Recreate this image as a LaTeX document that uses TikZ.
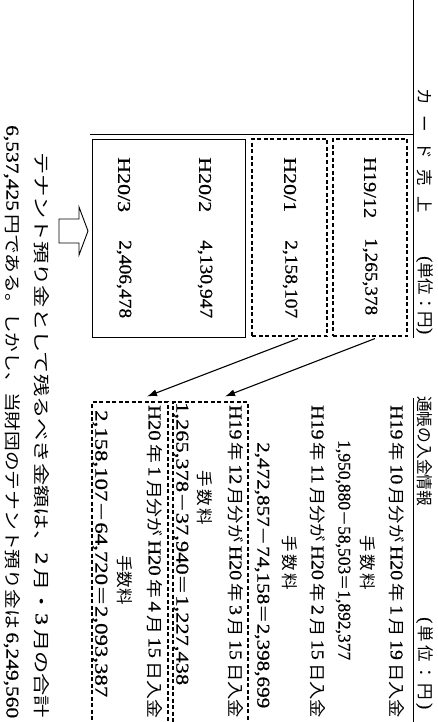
\documentclass[tikz,border=0pt]{standalone}
\usepackage{fontspec}
\usepackage{graphicx}
\setmainfont{Liberation Serif}[FakeBold=0.6]
\newfontfamily\jp[Scale=0.92]{Noto Sans CJK JP}
\newcommand\J[1]{{\jp #1}}
\usetikzlibrary{arrows.meta}
\tikzset{
  vt/.style={rotate=-90, anchor=west, inner sep=0pt, font=\fontsize{18}{20}\selectfont},
  dbox/.style={draw, dash pattern=on 4pt off 2.5pt, line width=1.1pt, inner sep=0pt},
  sbox/.style={draw, line width=1pt, inner sep=0pt},
  rule/.style={line width=1pt},
  arr/.style={line width=1.1pt, -{Latex[length=10pt,width=7pt]}},
  hollow/.style={draw, line width=0.9pt, fill=white}
}
% name, x, y-start, length, text (scaled to length)
\newcommand\vtext[5]{\node[vt] (#1) at (#2,#3) {\resizebox{#4pt}{\height}{#5}};}
% name, x, y-start, length, text spread to length
\newcommand\vspread[5]{\node[vt] (#1) at (#2,#3) {\makebox[#4pt][s]{#5}};}
\begin{document}
\begin{tikzpicture}[x=1pt,y=-1pt]
\useasboundingbox (0,0) rectangle (438,722);
\clip (0,0) rectangle (438,722);
% rules
\coordinate (r1a) at (413,0);
\coordinate (r1b) at (413,338);
\coordinate (r2a) at (413,398);
\coordinate (r2b) at (413,722);
\coordinate (h1) at (90,135);
\coordinate (h2) at (413,135);
\draw[rule] (r1a) -- (r1b);
\draw[rule] (r2a) -- (r2b);
\draw[rule] (h1) -- (h2);
% upper boxes
\node[dbox, minimum width=74pt, minimum height=197pt] (d1) at (370,237.5) {};
\node[dbox, minimum width=75pt, minimum height=197pt] (d2) at (289.5,237.5) {};
\node[sbox, minimum width=153pt, minimum height=197pt] (s1) at (168.5,238.5) {};
% lower boxes (open at the bottom edge of the page)
\node[dbox, minimum width=75pt, minimum height=340pt] (bA) at (210.5,572) {};
\node[dbox, minimum width=76pt, minimum height=340pt] (bB) at (130,572) {};
% arrows
\draw[arr] ([xshift=5pt,yshift=-2pt]d1.south) -- ([xshift=14.5pt,yshift=5pt]bA.north);
\draw[arr] ([xshift=8.5pt,yshift=-2pt]d2.south) -- ([xshift=17pt,yshift=5pt]bB.north);
% hollow arrow
\draw[hollow] (59,219) -- (79,219) -- (79,207) -- (88,231) -- (79,255) -- (79,243) -- (59,243) -- cycle;
% headers
\vspread{hc1}{425}{88}{125}{\J{カ}\hfill\J{ー}\hfill\J{ド}\hfill\J{売}\hfill\J{上}}
\vtext{hc2}{425}{256}{78}{(\J{単位：円})}
\vtext{hb1}{425}{396}{110}{\J{通帳の入金情報}}
\vspread{hb2}{425}{617}{92}{(\hfill\J{単}\hfill\J{位}\hfill\J{：}\hfill\J{円}\hfill)}
% box labels
\vtext{b1a}{370}{157}{61}{H19/12}
\vtext{b1b}{370}{238}{77}{1,265,378}
\vtext{b2a}{290}{157}{55}{H20/1}
\vtext{b2b}{290}{240}{78}{2,158,107}
\vtext{b3a}{205}{157}{55}{H20/2}
\vtext{b3b}{205}{240}{78}{4,130,947}
\vtext{b4a}{124}{157}{55}{H20/3}
\vtext{b4b}{124}{240}{78}{2,406,478}
% bank lines
\vtext{t7}{397}{405}{313}{H19\,\J{年}\,10\,\J{月分が}\,H20\,\J{年}\,1\,\J{月}\,19\,\J{日入金}}
\vspread{t8}{368}{535}{55}{\J{手}\hfill\J{数}\hfill\J{料}}
\vtext{t9}{343}{440}{220}{1,950,880\J{－}58,503\J{＝}1,892,377}
\vtext{t10}{318}{405}{313}{H19\,\J{年}\,11\,\J{月分が}\,H20\,\J{年}\,2\,\J{月}\,15\,\J{日入金}}
\vspread{t11}{290}{535}{55}{\J{手}\hfill\J{数}\hfill\J{料}}
\vtext{t12}{262}{442}{266}{2,472,857\J{－}74,158\J{＝}2,398,699}
\vtext{t13}{236}{405}{313}{H19\,\J{年}\,12\,\J{月分が}\,H20\,\J{年}\,3\,\J{月}\,15\,\J{日入金}}
\vspread{t14}{205}{470}{55}{\J{手}\hfill\J{数}\hfill\J{料}}
\vtext{t15}{181}{402}{283}{1,265,378\J{－}37,940\J{＝}1,227,438}
\vtext{t16}{155}{405}{313}{H20\,\J{年}\,1\,\J{月分が}\,H20\,\J{年}\,4\,\J{月}\,15\,\J{日入金}}
\vspread{t17}{125}{555}{50}{\J{手}\hfill\J{数}\hfill\J{料}}
\vtext{t18}{100}{410}{287}{2,158,107\J{－}64,720\J{＝}2,093,387}
% conclusion
\vtext{t19}{42}{152}{566}{\J{テナント預り金として残るべき金額は、}2\,\J{月・}3\,\J{月の合計}}
\vtext{t20}{12}{125}{593}{6,537,425\,\J{円である。しかし、当財団のテナント預り金は}\,6,249,560}
\end{tikzpicture}
\end{document}
